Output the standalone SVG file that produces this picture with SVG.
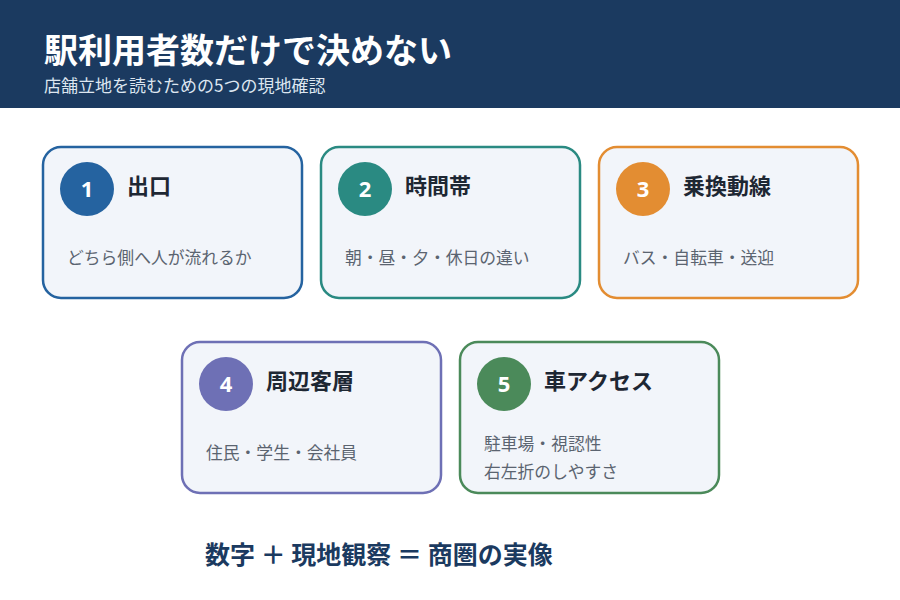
<svg xmlns="http://www.w3.org/2000/svg" width="900" height="600" viewBox="0 0 900 600">
<style>
.card{fill:#f2f5fa;stroke-width:2.5}
.num{font-family:"Noto Sans","Noto Sans CJK JP",sans-serif;font-size:22px;font-weight:bold;fill:#fff;text-anchor:middle}
.ttl{font-family:"Noto Sans CJK JP",sans-serif;font-size:22px;font-weight:bold;fill:#1e2733}
.desc{font-family:"Noto Sans CJK JP",sans-serif;font-size:16.8px;fill:#5b6470}
</style>
<rect width="900" height="600" fill="#ffffff"/>
<rect width="900" height="108" fill="#1b3a60"/>
<text x="44" y="63" font-family="Noto Sans CJK JP, sans-serif" font-size="34" font-weight="bold" fill="#ffffff">駅利用者数だけで決めない</text>
<text x="44" y="92" font-family="Noto Sans CJK JP, sans-serif" font-size="17" fill="#dde6f0">店舗立地を読むための5つの現地確認</text>
<g id="connectors"></g>
<g id="node1">
<rect class="card" x="43" y="147" width="259" height="151" rx="18" stroke="#2563a0"/>
<circle cx="87" cy="189" r="27" fill="#2563a0"/>
<text class="num" x="87" y="197">1</text>
<text class="ttl" x="127" y="194">出口</text>
<text class="desc" x="67" y="264">どちら側へ人が流れるか</text>
</g>
<g id="node2">
<rect class="card" x="321" y="147" width="259" height="151" rx="18" stroke="#2a8a82"/>
<circle cx="365" cy="189" r="27" fill="#2a8a82"/>
<text class="num" x="365" y="197">2</text>
<text class="ttl" x="405" y="194">時間帯</text>
<text class="desc" x="345" y="264">朝・昼・夕・休日の違い</text>
</g>
<g id="node3">
<rect class="card" x="599" y="147" width="259" height="151" rx="18" stroke="#e38d32"/>
<circle cx="643" cy="189" r="27" fill="#e38d32"/>
<text class="num" x="643" y="197">3</text>
<text class="ttl" x="683" y="194">乗換動線</text>
<text class="desc" x="623" y="264">バス・自転車・送迎</text>
</g>
<g id="node4">
<rect class="card" x="182" y="342" width="259" height="151" rx="18" stroke="#6e70b5"/>
<circle cx="226" cy="384" r="27" fill="#6e70b5"/>
<text class="num" x="226" y="392">4</text>
<text class="ttl" x="266" y="389">周辺客層</text>
<text class="desc" x="206" y="459">住民・学生・会社員</text>
</g>
<g id="node5">
<rect class="card" x="460" y="342" width="259" height="151" rx="18" stroke="#4b8a5a"/>
<circle cx="504" cy="384" r="27" fill="#4b8a5a"/>
<text class="num" x="504" y="392">5</text>
<text class="ttl" x="544" y="389">車アクセス</text>
<text class="desc" x="484" y="450">駐車場・視認性</text>
<text class="desc" x="484" y="478">右左折のしやすさ</text>
</g>
<text x="205" y="564" font-family="Noto Sans CJK JP, sans-serif" font-size="25" font-weight="bold" fill="#1b3a60">数字 ＋ 現地観察 ＝ 商圏の実像</text>
</svg>
